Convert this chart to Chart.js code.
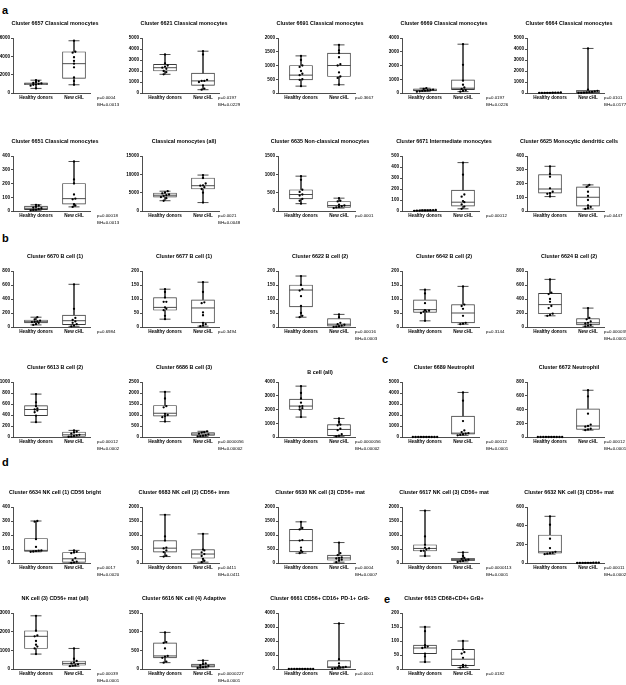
<!DOCTYPE html>
<html><head><meta charset="utf-8">
<script src="https://cdn.jsdelivr.net/npm/chart.js@4.4.1/dist/chart.umd.min.js"></script>
<style>
html,body{margin:0;padding:0;background:#fff;}
body{width:626px;height:685px;position:relative;overflow:hidden;font-family:"Liberation Sans",Arial,sans-serif;}
canvas{position:absolute;}
.lt{position:absolute;font-weight:bold;font-size:11px;line-height:11px;color:#000;}
</style></head><body>
<div class="lt" style="left:2px;top:5px">a</div>
<div class="lt" style="left:2px;top:233px">b</div>
<div class="lt" style="left:382px;top:354px">c</div>
<div class="lt" style="left:2px;top:457px">d</div>
<div class="lt" style="left:384px;top:594px">e</div>
<script>
// ---------- DATA ----------
const groups = ['Healthy donors', 'New cHL'];

const titles = [
  'Cluster 6657 Classical monocytes','Cluster 6621 Classical monocytes','Cluster 6691 Classical monocytes','Cluster 6669 Classical monocytes','Cluster 6664 Classical monocytes',
  'Cluster 6651 Classical monocytes','Classical monocytes (all)','Cluster 6635 Non-classical monocytes','Cluster 6671 Intermediate monocytes','Cluster 6625 Monocytic dendritic cells',
  'Cluster 6670 B cell (1)','Cluster 6677 B cell (1)','Cluster 6622 B cell (2)','Cluster 6642 B cell (2)','Cluster 6624 B cell (2)',
  'Cluster 6613 B cell (2)','Cluster 6686 B cell (3)','B cell (all)','Cluster 6689 Neutrophil','Cluster 6672 Neutrophil',
  'Cluster 6634 NK cell (1) CD56 bright','Cluster 6683 NK cell (2) CD56+ imm','Cluster 6630 NK cell (3) CD56+ mat','Cluster 6617 NK cell (3) CD56+ mat','Cluster 6632 NK cell (3) CD56+ mat',
  'NK cell (3) CD56+ mat (all)','Cluster 6616 NK cell (4) Adaptive','Cluster 6661 CD56+ CD16+ PD-1+ GrB-','Cluster 6615 CD68+CD4+ GrB+'
];

const yMaxes = [6000,5000,2000,4000,5000, 400,15000,1500,500,400, 800,200,200,200,800, 1000,2500,4000,5000,800, 400,2000,2000,2000,600, 3000,1500,4000,200];
const ySteps = [2000,1000,500,1000,1000, 100,5000,500,100,100, 200,50,50,50,200, 200,500,1000,1000,200, 100,500,500,500,200, 1000,500,1000,50];

const pTexts = [
  ['p=0.0004','BH=0.0013'],['p=0.0197','BH=0.0229'],['p=0.3667'],['p=0.0197','BH=0.0226'],['p=0.0101','BH=0.0177'],
  ['p=0.00018','BH=0.0013'],['p=0.0021','BH=0.0048'],['p=0.0001'],['p=0.00012'],['p=0.0447'],
  ['p=0.6984'],['p=0.3494'],['p=0.00016','BH=0.0003'],['p=0.3144'],['p=0.000039','BH=0.0001'],
  ['p=0.00012','BH=0.0002'],['p=0.0000056','BH=0.00002'],['p=0.0000056','BH=0.00002'],['p=0.00012','BH=0.0001'],['p=0.00012','BH=0.0001'],
  ['p=0.0017','BH=0.0020'],['p=0.0411','BH=0.0411'],['p=0.0004','BH=0.0007'],['p=0.0000113','BH=0.0001'],['p=0.00011','BH=0.0002'],
  ['p=0.00039','BH=0.0001'],['p=0.0000227','BH=0.0001'],['p=0.0001'],['p=0.0182']
];

// box stats: [min, q1, median, q3, max]
const healthyBox = [
  [500,900,1000,1100,1400],[1700,2000,2300,2600,3500],[250,480,650,1000,1350],[100,150,200,300,350],[5,10,20,30,45],
  [5,10,20,35,45],[2800,3800,4300,4900,5400],[200,330,450,580,950],[2,4,5,7,10],[105,130,160,265,325],
  [30,60,75,100,140],[28,60,70,105,135],[35,72,132,150,182],[22,52,62,97,133],[160,190,320,480,680],
  [270,390,500,570,780],[700,950,1080,1430,2050],[1450,2000,2250,2750,3700],[0,0,0,0,0],[0,0,0,0,0],
  [80,82,90,175,300],[230,390,530,800,1720],[350,400,800,1200,1470],[250,430,520,650,1870],[95,105,120,300,500],
  [800,1100,1750,2050,2850],[170,300,350,700,980],[0,0,0,0,0],[25,55,75,85,150]
];
const cHLBox = [
  [900,1600,3200,4500,5700],[300,700,1100,1800,3800],[300,600,1000,1450,1750],[100,250,350,950,3550],[0,20,100,250,4050],
  [30,50,90,200,360],[2300,6000,6900,9000,9800],[80,100,150,260,350],[20,45,80,190,440],[15,35,100,175,190],
  [10,35,90,170,610],[3,15,68,97,160],[0,3,10,30,45],[10,15,50,80,145],[10,30,60,120,270],
  [0,10,40,90,120],[30,70,130,200,260],[50,100,550,900,1350],[150,250,350,1900,4050],[100,110,160,410,680],
  [0,5,30,75,90],[30,170,320,480,1040],[30,100,180,280,730],[40,80,120,170,380],[0,0,2,4,5],
  [150,200,300,430,1100],[30,50,80,130,230],[0,80,150,600,3250],[5,12,35,70,100]
];

const healthyPts = [
  [1400,1300,1200,1100,1050,1000,950,900,800,500],[3500,2700,2500,2400,2300,2200,2000,1900,1700],[1350,1200,1000,950,800,700,650,500,480,250],[350,300,250,220,200,180,150,120,100],[45,40,30,25,20,15,10,8,5],
  [45,40,30,25,20,15,10,8,5],[5400,5000,4800,4500,4300,4100,3800,3500,2800],[950,850,580,520,450,420,330,280,200],[10,8,7,6,5,5,4,3,2],[325,270,250,165,140,130,125,105],
  [140,110,90,80,75,70,60,40,30],[135,125,105,90,90,70,65,60,40,28],[182,150,135,130,110,75,50,40,35],[133,120,85,60,58,56,55,50,22],[680,490,470,400,360,300,270,190,170,160],
  [780,630,560,520,500,480,450,390,270],[2050,1750,1400,1350,1050,1000,950,900,700],[3700,3200,2800,2500,2250,2200,2100,2000,1450],[0,0,0,0,0,0,0,0,0,0],[0,0,0,0,0,0,0,0,0,0],
  [300,295,170,115,90,88,85,82,80],[1720,950,800,550,520,450,390,260,230],[1470,1250,1200,820,800,550,450,400,350],[1870,950,650,550,520,480,440,430,250],[500,410,260,160,120,110,105,100,95],
  [2850,2050,1800,1750,1500,1300,1200,1100,800],[980,720,700,550,350,330,300,200,170],[0,0,0,0,0,0,0,0,0,0],[150,135,85,80,78,75,55,45,25]
];
const cHLPts = [
  [5700,4500,4400,3900,3500,3200,2800,1700,1300,900],[3800,3500,1200,1100,1100,1000,700,400,300],[1750,1550,1450,1300,1050,1000,750,600,550,300],[3550,2050,900,600,400,300,200,150,100],[4050,300,200,150,100,80,50,30,10,0],
  [360,230,200,120,90,85,50,40,30],[9800,9000,7500,7000,6900,6500,6000,5000,2300],[350,280,260,170,150,130,110,100,80],[440,330,150,130,90,80,60,40,20],[190,175,140,110,80,40,30,20,15],
  [610,260,130,100,80,60,40,20,10],[160,125,88,85,52,42,15,10,5,3],[45,35,15,10,8,5,3,1,0],[145,80,75,65,40,15,12,10],[270,130,110,80,60,50,30,20,10],
  [120,100,80,60,40,30,20,10,5],[260,220,200,150,120,80,60,40,30],[1350,1100,900,850,600,500,200,100,50],[4050,3300,1450,600,450,350,300,250,200,150],[680,590,340,180,160,150,120,110,100],
  [90,80,75,70,35,20,10,5,0],[1040,480,450,380,320,250,150,80,30],[730,350,280,200,180,160,120,100,30],[380,250,180,150,120,100,80,60,40],[5,4,3,2,2,1,1,0,0],
  [1100,550,430,350,300,250,200,180,150],[230,150,130,100,80,60,50,40,30],[3250,700,400,200,150,120,100,80,50,0],[100,70,60,55,40,15,12,8,5]
];

// ---------- LAYOUT ----------
const colAxisX = [13, 142, 278, 402, 527];
const colPShift = [3, -5, -4, 3, -4];
const rowTopY = [38, 156, 271, 382, 507, 613];
const rowPlotH = [55, 55, 56, 55, 56, 56];
const UNIT = 38;              // px per category unit
const XMIN = -23 / UNIT, XMAX = 54 / UNIT;
const LINE = '#3a3a3a';
const FONT = '"Liberation Sans", Arial, sans-serif';
const PADTOP = 18, AXW = 20, AXH = 10, PADBOT = 8, PADR = 36;

function boxLine(b, x) {
  const [mn, q1, md, q3, mx] = b;
  const c = 5.5 / UNIT, h = 11.5 / UNIT;
  return [
    {x: x - c, y: mx}, {x: x + c, y: mx}, {x: x, y: null},
    {x: x, y: mx}, {x: x, y: q3}, {x: x, y: null},
    {x: x, y: q1}, {x: x, y: mn}, {x: x, y: null},
    {x: x - c, y: mn}, {x: x + c, y: mn}, {x: x, y: null},
    {x: x - h, y: md}, {x: x + h, y: md}
  ];
}

function swarm(vals, x, yMax, plotH) {
  const thr = yMax * 2.6 / plotH;
  const s = vals.slice().sort((a, b) => a - b);
  const out = [];
  let i = 0;
  while (i < s.length) {
    let j = i;
    while (j + 1 < s.length && s[j + 1] - s[i] <= thr) j++;
    const n = j - i + 1;
    for (let k = 0; k < n; k++) {
      out.push({x: x + (k - (n - 1) / 2) * (2.7 / UNIT), y: s[i + k]});
    }
    i = j + 1;
  }
  return out;
}

const textPlugin = {
  id: 'panelText',
  afterDraw(chart, args, opts) {
    const {ctx, chartArea} = chart;
    ctx.save();
    ctx.fillStyle = '#000';
    ctx.font = 'bold 5.4px ' + FONT;
    ctx.textAlign = 'center';
    ctx.textBaseline = 'middle';
    ctx.fillText(opts.title, chartArea.left + 42, chartArea.top - 14 + (opts.titleShift || 0));
    ctx.font = '4.4px ' + FONT;
    ctx.textAlign = 'left';
    opts.p.forEach((t, k) => ctx.fillText(t, chartArea.right + 4 + (opts.pShift || 0), chartArea.bottom + 5 + k * 7));
    ctx.restore();
  }
};

for (let i = 0; i < titles.length; i++) {
  const row = Math.floor(i / 5), col = i % 5;
  const plotH = rowPlotH[row];
  const W = AXW + 77 + PADR, H = PADTOP + plotH + AXH + PADBOT;
  const cv = document.createElement('canvas');
  cv.width = W; cv.height = H;
  cv.style.left = (colAxisX[col] - AXW) + 'px';
  cv.style.top = (rowTopY[row] - PADTOP) + 'px';
  cv.style.width = W + 'px'; cv.style.height = H + 'px';
  document.body.appendChild(cv);

  const yMax = yMaxes[i];
  const hb = healthyBox[i], cb = cHLBox[i];
  const pts = swarm(healthyPts[i], 0, yMax, plotH).concat(swarm(cHLPts[i], 1, yMax, plotH));

  new Chart(cv, {
    type: 'bar',
    data: {
      datasets: [
        {type: 'scatter', data: pts, pointRadius: 1.15, pointBackgroundColor: '#000', pointBorderWidth: 0, order: 0, clip: false},
        {type: 'line', data: boxLine(hb, 0), borderColor: LINE, borderWidth: 0.9, pointRadius: 0, spanGaps: false, order: 1, clip: false},
        {type: 'line', data: boxLine(cb, 1), borderColor: LINE, borderWidth: 0.9, pointRadius: 0, spanGaps: false, order: 1, clip: false},
        {type: 'bar', data: [{x: 0, y: [hb[1], hb[3]]}, {x: 1, y: [cb[1], cb[3]]}], backgroundColor: '#fff', borderColor: LINE, borderWidth: 0.9, borderSkipped: false, barThickness: 23, order: 2, clip: false}
      ]
    },
    options: {
      responsive: false, animation: false, events: [],
      layout: {padding: {top: PADTOP, left: 0, right: PADR, bottom: PADBOT}},
      plugins: {
        legend: {display: false}, tooltip: {enabled: false}, title: {display: false},
        panelText: {title: titles[i], p: pTexts[i], titleShift: (i === 17 ? 5 : 0), pShift: colPShift[col]}
      },
      scales: {
        x: {
          type: 'linear', min: XMIN, max: XMAX, offset: false,
          afterBuildTicks: s => { s.ticks = [{value: 0}, {value: 1}]; },
          afterFit: s => { s.height = AXH; },
          ticks: {callback: v => groups[v], font: {family: FONT, size: 4.6, weight: 'bold'}, color: '#000', padding: 2, maxRotation: 0, autoSkip: false},
          grid: {display: false, drawTicks: false, tickLength: 0, offset: false},
          border: {display: true, color: LINE, width: 0.9}
        },
        y: {
          type: 'linear', min: 0, max: yMax,
          afterFit: s => { s.width = AXW; },
          ticks: {stepSize: ySteps[i], callback: v => String(v), font: {family: FONT, size: 4.6, weight: 'bold'}, color: '#000', padding: 1},
          grid: {display: true, drawOnChartArea: false, drawTicks: true, tickLength: 2, color: LINE, lineWidth: 0.9},
          border: {display: true, color: LINE, width: 0.9}
        }
      }
    },
    plugins: [textPlugin]
  });
}
</script>
</body></html>
